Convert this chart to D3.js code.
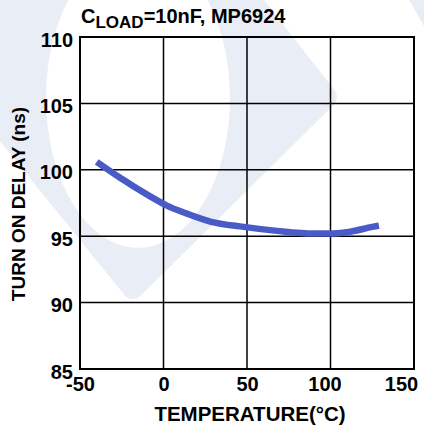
<!DOCTYPE html>
<html><head><meta charset="utf-8">
<script src="https://cdn.jsdelivr.net/npm/d3@7"></script>
<style>body{margin:0;background:#fff}svg{display:block}</style>
</head><body>
<script>
const temperature = [-40, -26, -8, 2, 14, 28, 48, 68, 90, 100, 110, 125, 129];
const delay = [100.6, 99.4, 98.0, 97.3, 96.7, 96.1, 95.7, 95.4, 95.2, 95.2, 95.3, 95.7, 95.8];
const xTicks = [-50, 0, 50, 100, 150];
const yTicks = [85, 90, 95, 100, 105, 110];

const W = 424, H = 430;
const m = {left: 80, right: 10, top: 37, bottom: 61};
const svg = d3.select("body").append("svg").attr("width", W).attr("height", H);
const x = d3.scaleLinear().domain([-50, 150]).range([m.left, W - m.right]);
const y = d3.scaleLinear().domain([85, 110]).range([H - m.bottom, m.top]);
const font = "Liberation Sans, Arial, sans-serif";

// faint background watermark
const wm = svg.append("g").attr("fill", "#e9edf6").attr("stroke", "#e9edf6")
  .attr("stroke-width", 22).attr("stroke-linejoin", "round");
wm.append("path").attr("d", "M125,-160 L326,97 L133,288 L-230,-160 Z");
wm.append("path").attr("d", "M398,-20 L460,-20 L460,90 Z").attr("stroke-width", 0);
svg.append("ellipse").attr("cx", 138).attr("cy", 98).attr("rx", 92).attr("ry", 150).attr("fill", "#fff");

// grid
const g = svg.append("g");
g.selectAll(".vx").data(xTicks.slice(1, -1)).join("line")
  .attr("x1", d => x(d)).attr("x2", d => x(d)).attr("y1", y(85)).attr("y2", y(110))
  .attr("stroke", "#000").attr("stroke-width", 1.5);
g.selectAll(".hy").data(yTicks.slice(1, -1)).join("line")
  .attr("x1", x(-50)).attr("x2", x(150)).attr("y1", d => y(d)).attr("y2", d => y(d))
  .attr("stroke", "#000").attr("stroke-width", 1.5);
g.append("rect").attr("x", x(-50)).attr("y", y(110)).attr("width", x(150) - x(-50)).attr("height", y(85) - y(110))
  .attr("fill", "none").attr("stroke", "#000").attr("stroke-width", 2);

// axes labels via d3 axes
const xa = svg.append("g").attr("transform", `translate(0,${y(85)})`)
  .call(d3.axisBottom(x).tickValues(xTicks).tickFormat(d => String(d)).tickSize(0).tickPadding(8));
xa.select(".domain").remove();
xa.selectAll("text").attr("font-family", font).attr("font-weight", "bold").attr("font-size", 20).attr("fill", "#000")
  .attr("dx", d => d === 150 ? -13 : d === 100 ? -6 : 0);
const ya = svg.append("g").attr("transform", `translate(${x(-50)},0)`)
  .call(d3.axisLeft(y).tickValues(yTicks).tickSize(0).tickPadding(7));
ya.select(".domain").remove();
ya.selectAll("text").attr("font-family", font).attr("font-weight", "bold").attr("font-size", 20).attr("fill", "#000")
  .attr("dy", "0.45em");

// curve
svg.append("path").datum(temperature.map((t, i) => [t, delay[i]]))
  .attr("d", d3.line().x(d => x(d[0])).y(d => y(d[1])).curve(d3.curveMonotoneX))
  .attr("fill", "none").attr("stroke", "#4a5bc8").attr("stroke-width", 6.5).attr("stroke-linecap", "butt");

// titles
const t = svg.append("text").attr("x", 81).attr("y", 23).attr("font-family", font).attr("font-weight", "bold").attr("font-size", 20).attr("fill", "#000");
t.append("tspan").text("C");
t.append("tspan").attr("dy", 5).attr("font-size", 17).text("LOAD");
t.append("tspan").attr("dy", -5).text("=10nF, MP6924");

svg.append("text").attr("x", 250).attr("y", 421).attr("text-anchor", "middle")
  .attr("font-family", font).attr("font-weight", "bold").attr("font-size", 20.5).text("TEMPERATURE(°C)");
svg.append("text").attr("transform", `translate(25,204) rotate(-90)`).attr("text-anchor", "middle")
  .attr("font-family", font).attr("font-weight", "bold").attr("font-size", 19).text("TURN ON DELAY (ns)");
</script>
</body></html>
